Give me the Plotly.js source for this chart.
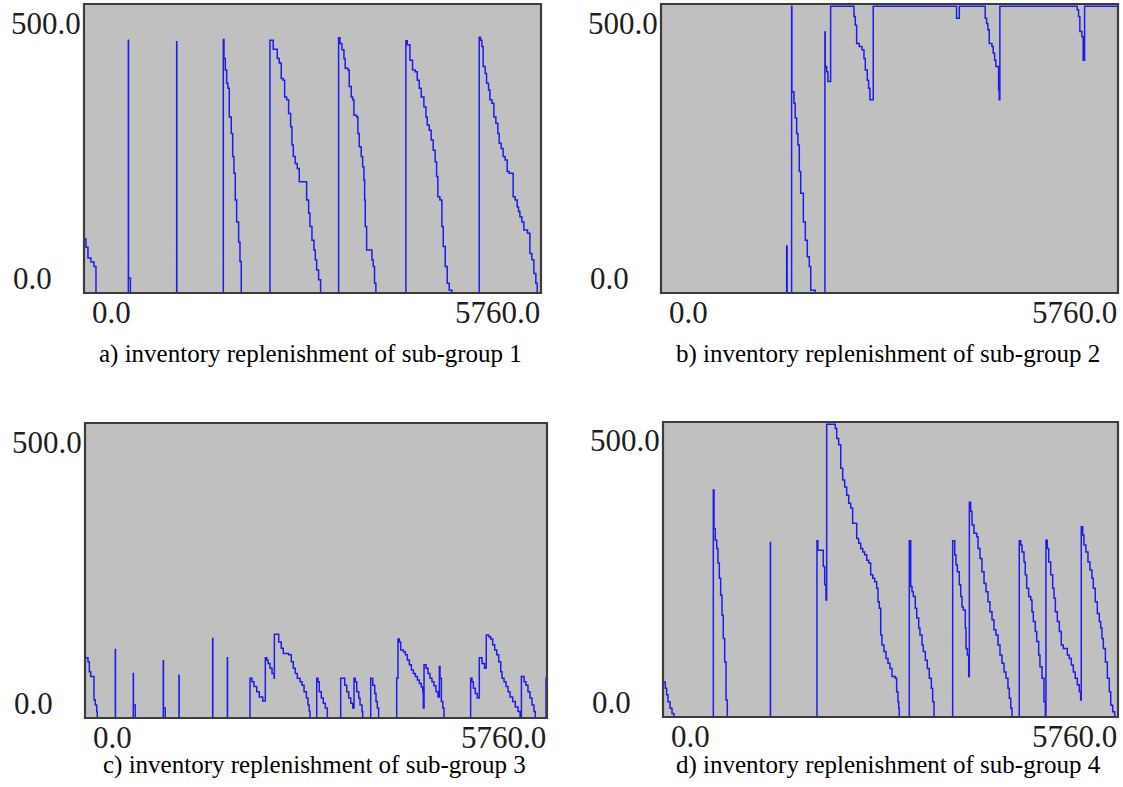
<!DOCTYPE html>
<html>
<head>
<meta charset="utf-8">
<script src="https://cdn.plot.ly/plotly-3.0.1.min.js"></script>
<style>html,body{margin:0;padding:0;background:#fff;}#chart{width:1123px;height:787px;}</style>
</head>
<body>
<div id="chart"></div>
<script>
// ---- data: time (min) and inventory level at each change point (step, held until next point) ----
const tA = [0,25,50,88,126,151, 559,561,585, 1168,1170,
  1756,1764,1781,1798,1814,1831,1856,1874,1890,1907,1924,1949,1966,1982,
  2344,2385,2436,2461,2486,2511,2529,2554,2579,2604,2621,2638,2662,2688,2713,2806,2831,2848,2873,2898,2915,2932,2957,2982,
  3209,3226,3251,3276,3292,3326,3343,3368,3386,3402,3436,3452,3469,3494,3512,3528,3537,3545,3562,3629,3645,3662,3679,
  4057,4074,4108,4141,4174,4200,4225,4250,4284,4309,4326,4351,4376,4401,4426,4444,4460,4486,4511,4528,4553,4578,4603,4637,
  4981,4998,5015,5031,5056,5074,5099,5116,5141,5166,5191,5216,5233,5258,5283,5308,5334,5359,5409,5434,5460,5477,5494,5519,5544,5590,5620,5645,5670,5695,5712,5760];
const vA = [94,80,61,54,46,0, 441,26,0, 438,0,
  442,409,389,366,357,307,278,238,209,162,124,89,55,0,
  441,425,409,401,374,371,342,337,313,290,258,238,226,217,194,162,139,116,92,75,58,40,23,0,
  445,435,424,409,392,389,360,342,337,310,307,278,255,238,220,197,162,116,75,58,46,17,0,
  440,433,406,389,386,371,357,342,325,307,293,284,267,249,229,203,168,162,116,81,46,17,5,0,
  446,441,430,395,383,366,354,337,331,307,296,278,261,252,238,232,212,209,168,162,150,142,133,124,110,104,69,58,34,17,0,0];

const tB = [0,1584,1590,1646,1650,1676,1692,1710,1726,1743,1761,1794,1819,1844,1869,1887,1944,
  2066,2070,2088,2104,2138,2432,2449,2466,2499,2533,2558,2575,2600,2617,2633,2675,
  3725,3760,4086,4104,4120,4137,4171,4187,4205,4221,4255,4263,4271,
  5246,5263,5279,5305,5321,5339,5760];
const vB = [0,82,0,500,351,331,305,278,258,212,174,124,92,63,46,5,0,
  455,395,386,369,500,482,467,435,430,424,409,389,371,357,337,500,
  479,500,479,470,459,435,430,418,406,395,354,337,500,
  494,482,456,447,406,500,500];

const tC = [0,37,54,71,112,128,146,153, 378,380, 602,604,627, 976,978,1000, 1172,1174, 1592,1594, 1775,1777,
  2057,2082,2107,2141,2173,2216,2248,2265,2282,2307,2332,2357,2361,2415,2447,2472,2540,2572,2597,2622,2647,2681,2706,2731,2760,2780,2795,2805,
  2889,2905,2921,2946,2971,2996,3021,
  3188,3238,3263,3288,3313,3338,3354,3370,3388,3413,3429,3454,3462,
  3562,3587,3612,3628,3644,3661,
  3886,3902,3919,3936,3969,3994,4019,4044,4069,4094,4119,4144,4169,4193,4211,4218,4227,4252,4276,4301,4326,4351,4376,4401,4418,4426,4443,4461,4476,
  4808,4825,4842,4866,4891,4916,4950,4981,5003,5033,5058,5083,5108,5133,5158,5183,5199,5224,5249,5274,5299,5332,5365,5399,5424,
  5441,5474,5498,5523,5548,5573,5598,5614, 5748,5760];
const vC = [103,96,79,71,31,22,11,0, 117,0, 76,22,0, 98,17,0, 73,0, 136,0, 103,0,
  68,62,54,45,36,29,103,99,93,85,76,68,143,130,119,110,108,96,85,76,68,62,56,45,34,22,12,0,
  68,62,45,34,25,17,0,
  68,56,45,34,25,17,68,62,45,34,22,11,0,
  68,56,42,28,17,0,
  68,135,130,116,113,108,99,91,82,76,71,65,59,53,45,17,91,85,76,68,62,55,45,36,88,68,28,17,0,
  68,62,51,42,34,103,93,85,142,139,135,125,116,108,96,79,68,62,54,45,36,28,19,11,0,
  71,62,56,45,34,22,11,0, 68,68];

const tD = [0,29,46,63,89,114,139,
  637,646,662,680,696,713,730,747,763,781,798,814, 1359,1361,
  1949,1960,2029,2047,2063,2072,2181,2199,2224,2250,2275,2300,2325,2351,2376,2401,2452,2477,2503,2528,2553,2579,2604,2629,2655,2680,2705,2722,2738,2756,2772,2797,2823,2848,2873,2899,2941,2958,2975,2984,2991,
  3118,3136,3152,3169,3194,3212,3237,3253,3279,3295,3321,3346,3371,3397,3414,3431,
  3667,3693,3709,3726,3751,3769,3785,3802,3827,3836,3853,3870,3878,3895,3912,3937,3971,3988,4013,4038,4064,4089,4114,4139,4165,4190,4215,4241,4266,4291,4317,4342,4367,4384,4402,4418,
  4510,4528,4545,4570,4586,4604,4629,4655,4671,4688,4713,4731,4756,4772,4798,4823,4840,
  4848,4865,4883,4908,4933,4950,4967,4992,5017,5042,5067,5118,5143,5169,5194,5219,5245,5270,5287,
  5295,5313,5329,5354,5380,5405,5430,5447,5472,5498,5523,5541,5557,5574,5600,5625,5650,5668,5693,5718,5760];
const vD = [60,49,38,26,15,6,0,
  388,322,302,288,263,237,208,174,134,94,29,0, 298,0,
  301,285,257,226,200,500,493,476,465,425,405,393,379,365,357,331,305,297,288,282,277,268,263,243,237,231,220,197,186,140,123,112,100,92,83,69,66,43,26,15,0,
  301,223,214,206,186,169,152,140,123,112,97,83,66,49,26,0,
  301,277,260,248,226,206,188,183,152,117,106,69,367,351,328,314,308,288,271,248,228,214,197,180,166,149,140,123,106,92,77,66,49,32,15,0,
  301,294,282,265,243,220,206,200,180,163,146,129,106,86,66,26,0,
  302,288,265,243,220,203,180,163,146,123,117,106,100,89,77,66,55,43,29,
  325,311,294,282,265,251,237,220,197,177,163,152,134,117,94,66,43,20,9,0,0];

const xTickLabels = ["0.0", "5760.0"];
const yTickLabels = ["0.0", "500.0"];
const captions = [
  "a) inventory replenishment of sub-group 1",
  "b) inventory replenishment of sub-group 2",
  "c) inventory replenishment of sub-group 3",
  "d) inventory replenishment of sub-group 4"
];
const tMax = 5760, vMax = 504;

// ---- layout geometry (pixels) ----
const W = 1123, H = 787;
const boxes = [ // [left, right, top, bottom]
  [84, 541, 4, 293],
  [661, 1118, 4, 293],
  [85, 547, 423, 718],
  [663, 1118, 422, 717]
];
const capY = [354, 354, 765, 765];
const series = [[tA, vA], [tB, vB], [tC, vC], [tD, vD]];

const serif = '"Liberation Serif", "Times New Roman", Times, serif';
const traces = [];
const layout = {
  width: W, height: H,
  margin: {l: 0, r: 0, t: 0, b: 0},
  paper_bgcolor: '#ffffff',
  plot_bgcolor: '#c0c0c0',
  showlegend: false,
  annotations: [],
  shapes: []
};
const px = x => x / W, py = y => 1 - y / H;

boxes.forEach((b, i) => {
  const n = i === 0 ? '' : String(i + 1);
  traces.push({
    x: series[i][0], y: series[i][1],
    xaxis: 'x' + n, yaxis: 'y' + n,
    type: 'scatter', mode: 'lines',
    line: {shape: 'hv', color: '#1c1cf0', width: 1.5},
    hoverinfo: 'skip'
  });
  const axCommon = {showgrid: false, zeroline: false, showticklabels: false, ticks: '', showline: false};
  layout['xaxis' + n] = Object.assign({}, axCommon, {
    domain: [px(b[0]), px(b[1])], range: [0, tMax], anchor: 'y' + n});
  layout['yaxis' + n] = Object.assign({}, axCommon, {
    domain: [py(b[3]), py(b[2])], range: [0, vMax], anchor: 'x' + n});
  // frame drawn over the traces
  layout.shapes.push({type: 'rect', xref: 'x' + n + ' domain', yref: 'y' + n + ' domain',
    x0: 0, x1: 1, y0: 0, y1: 1, layer: 'above',
    line: {color: '#3c3c3c', width: 2.2}, fillcolor: 'rgba(0,0,0,0)'});
  const tickFont = {family: serif, size: 31, color: '#1e1e1e'};
  // y tick labels
  layout.annotations.push({xref: 'paper', yref: 'paper', x: px(b[0] - 73), y: py(b[3] - 15),
    xanchor: 'left', yanchor: 'middle', text: yTickLabels[0], showarrow: false, font: tickFont});
  layout.annotations.push({xref: 'paper', yref: 'paper', x: px(b[0] - 1), y: py(b[2] + 19),
    xanchor: 'right', yanchor: 'middle', text: yTickLabels[1], showarrow: false, font: tickFont});
  // x tick labels
  layout.annotations.push({xref: 'paper', yref: 'paper', x: px(b[0] + 27), y: py(b[3] + 19),
    xanchor: 'center', yanchor: 'middle', text: xTickLabels[0], showarrow: false, font: tickFont});
  layout.annotations.push({xref: 'paper', yref: 'paper', x: px(b[1] + 1), y: py(b[3] + 19),
    xanchor: 'right', yanchor: 'middle', text: xTickLabels[1], showarrow: false, font: tickFont});
  // caption
  layout.annotations.push({xref: 'paper', yref: 'paper', x: px((b[0] + b[1]) / 2 - 2), y: py(capY[i]),
    xanchor: 'center', yanchor: 'middle', text: captions[i], showarrow: false,
    font: {family: serif, size: 25, color: '#000000'}});
});

Plotly.newPlot('chart', traces, layout, {displayModeBar: false, staticPlot: true});
</script>
</body>
</html>
